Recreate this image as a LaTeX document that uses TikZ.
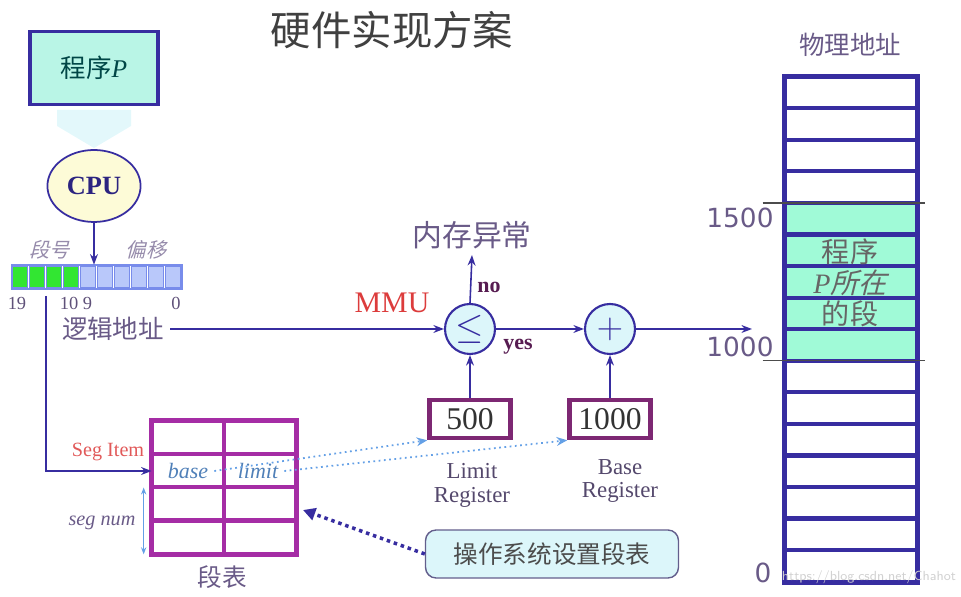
\documentclass[tikz,border=0pt]{standalone}
\usepackage{fontspec}
\setmainfont{Liberation Serif}
\newfontfamily\cjk{Noto Sans CJK SC}
\newfontfamily\cjkslant[FakeSlant=0.25]{Noto Sans CJK SC}
\newfontfamily\numfont{DejaVu Sans}
\usepackage{tikz}
\definecolor{lineNavy}{RGB}{55,45,160}
\definecolor{textPurple}{RGB}{105,90,135}
\definecolor{regPurple}{RGB}{125,40,115}
\definecolor{segMagenta}{RGB}{165,45,165}
\definecolor{mmuRed}{RGB}{220,60,60}
\definecolor{paleCyan}{RGB}{220,246,250}
\definecolor{memGreen}{RGB}{160,250,215}
\definecolor{progFill}{RGB}{185,245,230}
\definecolor{cpuFill}{RGB}{253,251,215}
\definecolor{bitGreen}{RGB}{50,230,50}
\definecolor{bitBlue}{RGB}{185,200,250}
\definecolor{bitEdge}{RGB}{120,140,235}
\definecolor{dotBlue}{RGB}{100,160,230}
\usetikzlibrary{arrows.meta, positioning, calc, shapes.geometric}

\begin{document}
\begin{tikzpicture}[x=0.02cm, y=-0.02cm,
    conn/.style={-{Stealth[length=6pt,width=4.5pt]}, lineNavy, line width=0.9pt},
    gate/.style={circle, draw=lineNavy, line width=1.2pt, fill=paleCyan, minimum size=1cm, inner sep=0pt, font=\fontsize{20}{20}\selectfont, text=lineNavy},
    reg/.style={rectangle, draw=regPurple, line width=2.6pt, minimum width=1.62cm, minimum height=0.76cm, font=\fontsize{18}{18}\selectfont, text=black!80},
    lbl/.style={text=textPurple!80!black, font=\fontsize{13}{13.6}\selectfont, align=center},
    cjklbl/.style={text=textPurple, font=\cjk\fontsize{14.5}{16}\selectfont},
    numlbl/.style={text=textPurple, font=\numfont\fontsize{15}{15}\selectfont},
    dotline/.style={-{Stealth[length=6pt, width=5pt, open]}, dotBlue, line width=1pt, dotted}
]
\useasboundingbox (0,0) rectangle (961,597);

% title
\node[font=\cjk\fontsize{23}{23}\selectfont, text=black!75] (title) at (392,30) {硬件实现方案};

% program P and CPU
\node[rectangle, draw=lineNavy, line width=1.8pt, fill=progFill, minimum width=2.56cm, minimum height=1.46cm, text=teal!55!black, font=\fontsize{14.5}{14.5}\selectfont] (prog) at (94,68) {{\cjk 程序}\textit{P}};
\fill[paleCyan!80] (57,110) -- (131,110) -- (131,126) -- (94,148) -- (57,126) -- cycle;
\node[ellipse, draw=lineNavy, line width=1pt, fill=cpuFill, minimum width=1.64cm, minimum height=1.44cm, font=\bfseries\fontsize{15}{15}\selectfont, text=lineNavy!80!black] (cpu) at (94,186) {CPU};

% logical address bits
\node[minimum width=3.4cm, minimum height=0.48cm, inner sep=0pt] (addr) at (97,277) {};
\foreach \c [count=\i from 0] in {bitGreen,bitGreen,bitGreen,bitGreen,bitBlue,bitBlue,bitBlue,bitBlue,bitBlue,bitBlue}
  \draw[bitEdge, fill=\c, line width=0.8pt] ($(addr.west)+(\i*17+1,-11)$) rectangle ++(15,22);
\draw[bitEdge, line width=1pt] (addr.north west) rectangle (addr.south east);
\node[font=\cjkslant\fontsize{11.5}{12}\selectfont, text=textPurple!70] (segno) at (50,250) {段号};
\node[font=\cjkslant\fontsize{11.5}{12}\selectfont, text=textPurple!70] (offs) at (146,250) {偏移};
\node[font=\fontsize{10.5}{11}\selectfont, text=textPurple!90!black] (b19) at (17,303) {19};
\node[font=\fontsize{10.5}{11}\selectfont, text=textPurple!90!black] (b10) at (76,303) {10 9};
\node[font=\fontsize{10.5}{11}\selectfont, text=textPurple!90!black] (b0) at (176,303) {0};
\draw[conn] (cpu.south) -- (cpu.south |- addr.north);

\node[cjklbl] (logic) at (113,329) {逻辑地址};

% MMU
\node[gate] (cmp) at (470,329) {$\le$};
\node[gate] (add) at (610,329) {$+$};
\node[cjklbl, font=\cjk\fontsize{17}{17}\selectfont] (exc) at (472,235) {内存异常};
\node[text=mmuRed, font=\fontsize{17}{17}\selectfont] (mmu) at (392,303) {MMU};
\node[font=\bfseries\fontsize{12.5}{13}\selectfont, text=regPurple!70!black] (no) at (489,287) {no};
\node[font=\bfseries\fontsize{12.5}{13}\selectfont, text=regPurple!70!black] (yes) at (518,347) {yes};
\node[reg] (lim) at (470,419) {500};
\node[reg] (basereg) at (610,419) {1000};
\node[lbl] (limlbl) at (472,485) {Limit\\Register};
\node[lbl] (baselbl) at (620,481) {Base\\Register};

\draw[conn] (logic.east) -- (cmp.west);
\draw[conn] (cmp.north) -- (exc.south);
\draw[conn] (cmp) -- (add);
\draw[conn] (lim) -- (cmp);
\draw[conn] (basereg) -- (add);

% physical memory
\node[cjklbl] (phys) at (850,45) {物理地址};
\node[minimum width=2.64cm, minimum height=10.1cm, inner sep=0pt] (mem) at (851,329.5) {};
\fill[memGreen] ($(mem.north west)+(0,4*31.56)$) rectangle ($(mem.north east)+(0,9*31.56)$);
\foreach \r in {1,...,15}
  \draw[lineNavy, line width=2.4pt] ($(mem.north west)+(0,\r*31.56)$) -- ($(mem.north east)+(0,\r*31.56)$);
\draw[lineNavy, line width=2.6pt] (mem.north west) rectangle (mem.south east);
\draw[black!70, line width=0.8pt] ($(mem.north west)+(-22,4*31.56)$) -- ($(mem.north east)+(8,4*31.56)$);
\draw[black!70, line width=0.8pt] ($(mem.north west)+(-22,9*31.56)$) -- ($(mem.north east)+(8,9*31.56)$);
\node[numlbl] (m1500) at (740,218) {1500};
\node[numlbl] (m1000) at (740,347) {1000};
\node[numlbl] (m0) at (763,573) {0};
\node[font=\cjk\fontsize{16}{17.5}\selectfont, text=black!60, align=center] (segtext) at (850,283) {程序\\{\rmfamily\itshape P}{\cjkslant 所在}\\的段};
\coordinate (pin) at (752,329);
\draw[conn] (add) -- (pin);

% segment table
\node[minimum width=2.88cm, minimum height=2.66cm, inner sep=0pt] (seg) at (224,487.5) {};
\foreach \r in {1,2,3}
  \draw[segMagenta, line width=2.4pt] ($(seg.north west)+(0,\r*33.25)$) -- ($(seg.north east)+(0,\r*33.25)$);
\draw[segMagenta, line width=2.4pt] (seg.north) -- (seg.south);
\draw[segMagenta, line width=2.6pt] (seg.north west) rectangle (seg.south east);
\node[text=mmuRed!85, font=\fontsize{11.5}{12}\selectfont] (segitem) at (108,452) {Seg Item};
\node[text=dotBlue!80!black, font=\itshape\fontsize{12.5}{13}\selectfont] (basefld) at (188,471) {base};
\node[text=dotBlue!80!black, font=\itshape\fontsize{12.5}{13}\selectfont] (limfld) at (258,471) {limit};
\node[text=textPurple, font=\itshape\fontsize{11.5}{12}\selectfont] (segnum) at (102,523) {seg num};
\node[cjklbl, font=\cjk\fontsize{14}{14}\selectfont] (segtab) at (222,577) {段表};
\draw[{Stealth[length=4pt]}-{Stealth[length=4pt]}, dotBlue, line width=0.8pt] ($(seg.west)+(-8,0)$) -- ($(seg.south west)+(-8,0)$);

\coordinate (tap) at (46,296);
\draw[conn] (tap) |- (seg.west |- basefld.center);
\draw[dotline] (basefld.east) -- (lim.south west);
\draw[dotline] (limfld.east) -- (basereg.south west);

% OS note
\node[rectangle, rounded corners=6pt, draw=lineNavy!40!gray, line width=0.8pt, fill=paleCyan, minimum width=5.06cm, minimum height=0.96cm, font=\cjk\fontsize{14}{14}\selectfont, text=black!70] (os) at (552,554) {操作系统设置段表};
\coordinate (ostip) at (303,510);
\draw[lineNavy, line width=2pt, dash pattern=on 2pt off 2.2pt, -{Triangle[length=7pt,width=7pt]}] (os.west) -- (ostip);

\node[anchor=east, text=black!18, font=\sffamily\fontsize{7.5}{8}\selectfont, inner sep=1pt] (wm) at (958,577) {https://blog.csdn.net/Chahot};
\end{tikzpicture}
\end{document}
